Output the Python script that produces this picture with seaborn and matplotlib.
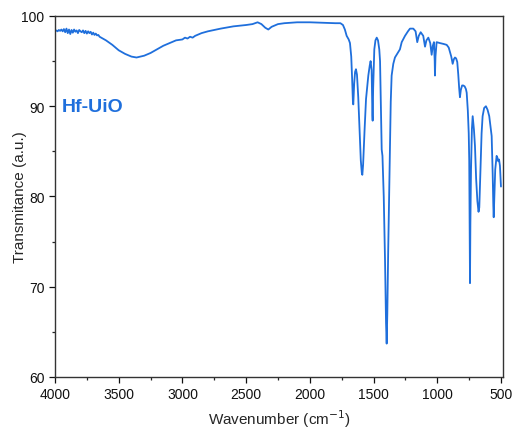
import numpy as np
import pandas as pd
import seaborn as sns
import matplotlib
matplotlib.use("Agg")
import matplotlib.pyplot as plt
from matplotlib.ticker import MultipleLocator

# noisy high-wavenumber region
noise_wn = [4000, 3990, 3980, 3970, 3960, 3950, 3940, 3930, 3920, 3910,
            3900, 3890, 3880, 3870, 3860, 3850, 3840, 3830, 3820, 3810,
            3800, 3790, 3780, 3770, 3760, 3750, 3740, 3730, 3720, 3710,
            3700, 3690, 3680, 3670, 3660]
noise_t = [98.35, 98.40, 98.30, 98.45, 98.35, 98.50, 98.30, 98.55, 98.20, 98.60,
           98.10, 98.50, 98.00, 98.45, 98.15, 98.50, 98.25, 98.40, 98.10, 98.45,
           98.30, 98.20, 98.40, 98.10, 98.35, 98.05, 98.30, 98.10, 98.25, 97.95,
           98.15, 97.90, 98.05, 97.85, 97.90]

band_wn = [3650, 3600, 3550, 3500, 3450, 3400, 3360, 3300, 3250, 3200,
           3150, 3100, 3050, 3000, 2980, 2960, 2940, 2920, 2900, 2850,
           2800, 2700, 2600, 2500, 2450, 2410, 2380, 2350, 2326, 2300,
           2250, 2200, 2100, 2000, 1900, 1800, 1760, 1740, 1725, 1711,
           1695, 1685, 1675, 1668, 1662, 1659, 1652, 1645, 1638, 1630,
           1620, 1610, 1600, 1592, 1588, 1582, 1570, 1559, 1541, 1530,
           1523, 1515, 1509, 1507, 1503, 1494, 1485, 1475, 1465, 1455,
           1449, 1442, 1436, 1430, 1420, 1410, 1402, 1397, 1392, 1385,
           1378, 1371, 1365, 1358, 1345, 1332, 1310, 1293, 1279, 1253,
           1230, 1214, 1188, 1170, 1157, 1145, 1130, 1110, 1096, 1085,
           1070, 1055, 1044, 1035, 1026, 1020, 1018, 1014, 1005, 980,
           950, 926, 910, 900, 890, 879, 870, 861, 852, 843,
           835, 828, 822, 815, 805, 796, 785, 775, 769, 760,
           753, 749, 746, 743, 740, 735, 728, 722, 717, 712,
           704, 695, 685, 676, 670, 662, 652, 644, 632, 618,
           605, 592, 580, 573, 565, 560, 557, 553, 545, 534,
           528, 521, 515, 508, 503, 500]
band_t = [97.7, 97.3, 96.8, 96.2, 95.8, 95.5, 95.4, 95.6, 95.9, 96.3,
          96.7, 97.0, 97.3, 97.4, 97.6, 97.5, 97.7, 97.6, 97.8, 98.1,
          98.3, 98.6, 98.85, 99.0, 99.1, 99.3, 99.1, 98.7, 98.5, 98.8,
          99.1, 99.2, 99.3, 99.3, 99.25, 99.2, 99.2, 99.0, 98.5, 97.8,
          97.4, 97.0, 95.5, 93.0, 90.5, 90.2, 92.5, 93.8, 94.1, 93.5,
          91.0, 87.5, 84.0, 82.6, 82.4, 83.5, 87.5, 90.8, 93.4, 94.5,
          95.0, 94.0, 89.0, 88.4, 92.0, 96.3, 97.3, 97.6, 97.3, 96.3,
          95.0, 90.0, 85.2, 84.5, 80.0, 73.0, 66.0, 63.7, 67.0, 74.0,
          80.0, 86.0, 90.5, 93.4, 94.7, 95.4, 95.9, 96.3, 97.1, 97.8,
          98.3, 98.6, 98.6, 98.3, 97.1, 97.8, 98.2, 97.8, 96.6, 97.3,
          97.6, 97.0, 95.7, 96.7, 97.1, 95.0, 93.4, 95.5, 97.1, 97.0,
          96.9, 96.8, 96.5, 96.0, 95.5, 94.7, 95.2, 95.4, 95.3, 94.9,
          93.5, 92.0, 91.0, 91.8, 92.3, 92.3, 92.2, 91.9, 91.5, 89.5,
          87.0, 84.0, 78.0, 70.4, 77.0, 83.0, 87.5, 88.9, 88.2, 87.4,
          85.6, 82.0, 79.5, 78.3, 78.8, 82.5, 87.0, 88.9, 89.8, 90.0,
          89.6, 88.9, 87.5, 86.7, 82.5, 79.0, 77.7, 79.5, 83.0, 84.5,
          84.3, 83.9, 84.1, 83.4, 82.0, 81.1]

sample_label = "Hf-UiO"
line_color = "#1f6fdc"

df = pd.DataFrame({"wavenumber": noise_wn + band_wn,
                   "transmittance": noise_t + band_t})

sns.set_style("ticks")
plt.rcParams["font.family"] = ["Liberation Sans", "DejaVu Sans"]

fig = plt.figure(figsize=(5.14, 4.31), dpi=100)
ax = fig.add_axes([0.107, 0.123, 0.8716, 0.8376])

sns.lineplot(data=df, x="wavenumber", y="transmittance", sort=False,
             color=line_color, linewidth=1.3, ax=ax)

ax.set_xlim(4000, 484)
ax.set_ylim(60, 100)
ax.xaxis.set_major_locator(MultipleLocator(500))
ax.xaxis.set_minor_locator(MultipleLocator(250))
ax.yaxis.set_major_locator(MultipleLocator(10))
ax.yaxis.set_minor_locator(MultipleLocator(5))
ax.tick_params(which="major", direction="out", length=4, width=0.9,
               labelsize=10, colors="#111111", top=False, right=False)
ax.tick_params(which="minor", direction="out", length=2.5, width=0.9,
               top=False, right=False)
for s in ax.spines.values():
    s.set_visible(True)
    s.set_linewidth(1.0)
    s.set_color("#333333")

ax.set_xlabel("Wavenumber (cm$^{-1}$)", fontsize=11, labelpad=4)
ax.set_ylabel("Transmitance (a.u.)", fontsize=11, labelpad=-4)

ax.text(3950, 90, sample_label, color=line_color, fontsize=14,
        fontweight="bold", va="center", ha="left")

fig.savefig("out.png", dpi=100)
